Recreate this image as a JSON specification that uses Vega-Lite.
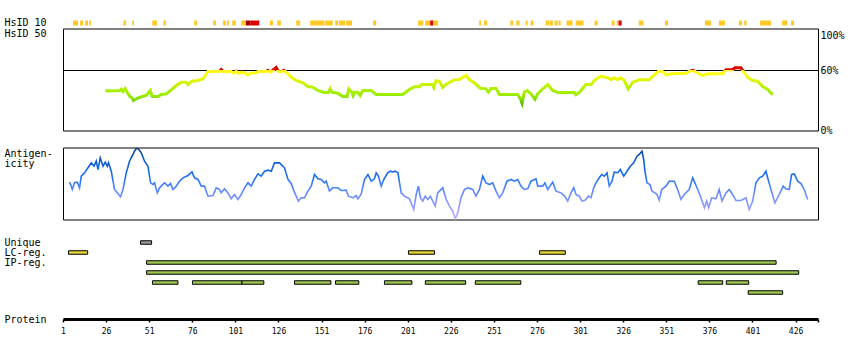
{
  "$schema": "https://vega.github.io/schema/vega-lite/v6.json",
  "background": "white",
  "padding": {"left": 3, "top": 17.5, "right": 0, "bottom": 0},
  "bounds": "full",
  "spacing": 8,
  "resolve": {"scale": {"color": "independent"}},
  "config": {
    "view": {"stroke": null},
    "font": "DejaVu Sans Mono",
    "axis": {"labelFont": "DejaVu Sans Mono", "titleFont": "DejaVu Sans Mono", "labelColor": "black", "titleColor": "black", "titleFontWeight": "normal", "labelFontSize": 10, "titleFontSize": 10, "grid": false}
  },
  "vconcat": [
    {
      "bounds": "flush",
      "spacing": 3,
      "resolve": {"scale": {"color": "independent"}},
      "vconcat": [
        {
          "width": 755,
          "height": 5,
          "data": {"values": [
            {"track": "HsID 10", "start": 6.8, "end": 9.7, "level": "medium"},
            {"track": "HsID 10", "start": 10.9, "end": 12.6, "level": "medium"},
            {"track": "HsID 10", "start": 13.9, "end": 15.5, "level": "medium"},
            {"track": "HsID 10", "start": 16.2, "end": 17.2, "level": "medium"},
            {"track": "HsID 10", "start": 36.0, "end": 37.5, "level": "medium"},
            {"track": "HsID 10", "start": 41.2, "end": 42.2, "level": "medium"},
            {"track": "HsID 10", "start": 52.8, "end": 55.5, "level": "medium"},
            {"track": "HsID 10", "start": 59.2, "end": 60.7, "level": "medium"},
            {"track": "HsID 10", "start": 77.1, "end": 78.7, "level": "medium"},
            {"track": "HsID 10", "start": 88.1, "end": 89.7, "level": "medium"},
            {"track": "HsID 10", "start": 93.8, "end": 95.5, "level": "medium"},
            {"track": "HsID 10", "start": 96.1, "end": 97.2, "level": "medium"},
            {"track": "HsID 10", "start": 99.2, "end": 101.3, "level": "medium"},
            {"track": "HsID 10", "start": 104.4, "end": 107.1, "level": "medium"},
            {"track": "HsID 10", "start": 107.1, "end": 109.6, "level": "very high"},
            {"track": "HsID 10", "start": 109.6, "end": 114.8, "level": "high"},
            {"track": "HsID 10", "start": 114.8, "end": 115.2, "level": "medium"},
            {"track": "HsID 10", "start": 121.0, "end": 122.8, "level": "medium"},
            {"track": "HsID 10", "start": 125.3, "end": 127.4, "level": "medium"},
            {"track": "HsID 10", "start": 136.3, "end": 138.6, "level": "medium"},
            {"track": "HsID 10", "start": 144.4, "end": 152.7, "level": "medium"},
            {"track": "HsID 10", "start": 153.1, "end": 157.5, "level": "medium"},
            {"track": "HsID 10", "start": 158.9, "end": 160.6, "level": "medium"},
            {"track": "HsID 10", "start": 161.2, "end": 164.7, "level": "medium"},
            {"track": "HsID 10", "start": 165.3, "end": 168.7, "level": "medium"},
            {"track": "HsID 10", "start": 180.9, "end": 182.7, "level": "medium"},
            {"track": "HsID 10", "start": 207.0, "end": 209.9, "level": "medium"},
            {"track": "HsID 10", "start": 211.1, "end": 214.0, "level": "medium"},
            {"track": "HsID 10", "start": 214.0, "end": 215.7, "level": "high"},
            {"track": "HsID 10", "start": 215.7, "end": 218.6, "level": "medium"},
            {"track": "HsID 10", "start": 242.4, "end": 243.6, "level": "medium"},
            {"track": "HsID 10", "start": 245.3, "end": 247.1, "level": "medium"},
            {"track": "HsID 10", "start": 260.5, "end": 262.2, "level": "medium"},
            {"track": "HsID 10", "start": 264.0, "end": 265.8, "level": "medium"},
            {"track": "HsID 10", "start": 269.4, "end": 270.5, "level": "medium"},
            {"track": "HsID 10", "start": 272.3, "end": 274.0, "level": "medium"},
            {"track": "HsID 10", "start": 281.0, "end": 282.9, "level": "medium"},
            {"track": "HsID 10", "start": 283.3, "end": 285.2, "level": "medium"},
            {"track": "HsID 10", "start": 286.2, "end": 288.0, "level": "medium"},
            {"track": "HsID 10", "start": 288.5, "end": 289.7, "level": "medium"},
            {"track": "HsID 10", "start": 293.1, "end": 296.6, "level": "medium"},
            {"track": "HsID 10", "start": 298.4, "end": 303.0, "level": "medium"},
            {"track": "HsID 10", "start": 309.4, "end": 311.2, "level": "medium"},
            {"track": "HsID 10", "start": 319.3, "end": 321.0, "level": "medium"},
            {"track": "HsID 10", "start": 322.2, "end": 323.3, "level": "medium"},
            {"track": "HsID 10", "start": 323.3, "end": 325.1, "level": "high"},
            {"track": "HsID 10", "start": 335.0, "end": 337.8, "level": "medium"},
            {"track": "HsID 10", "start": 350.3, "end": 352.0, "level": "medium"},
            {"track": "HsID 10", "start": 373.4, "end": 376.9, "level": "medium"},
            {"track": "HsID 10", "start": 381.5, "end": 385.0, "level": "medium"},
            {"track": "HsID 10", "start": 393.1, "end": 394.9, "level": "medium"},
            {"track": "HsID 10", "start": 396.2, "end": 397.6, "level": "medium"},
            {"track": "HsID 10", "start": 405.4, "end": 411.8, "level": "medium"},
            {"track": "HsID 10", "start": 418.2, "end": 421.1, "level": "medium"},
            {"track": "HsID 10", "start": 423.4, "end": 425.1, "level": "medium"}
          ]},
          "mark": {"type": "rect"},
          "encoding": {
            "x": {"field": "start", "type": "quantitative", "scale": {"domain": [1, 439], "nice": false, "zero": false}, "axis": null},
            "x2": {"field": "end"},
            "y": {"field": "track", "type": "nominal", "scale": {"paddingInner": 0, "paddingOuter": 0}, "axis": {"title": null, "labelAlign": "left", "labelPadding": 59, "ticks": false, "tickSize": 0, "domain": false, "labelBaseline": "middle"}},
            "color": {"field": "level", "type": "nominal", "scale": {"domain": ["medium", "high", "very high"], "range": ["#FFC825", "#E00000", "#A00000"]}, "legend": null}
          }
        },
        {
          "width": 755,
          "height": 102,
          "view": {"stroke": "black", "strokeWidth": 1},
          "layer": [
            {
              "data": {"values": [{"threshold": 60}]},
              "mark": {"type": "rule", "color": "black", "strokeWidth": 1},
              "encoding": {
                "y": {"field": "threshold", "type": "quantitative", "scale": {"domain": [0, 102], "nice": false}, "axis": {"orient": "left", "title": "HsID 50", "labels": false, "ticks": false, "tickSize": 0, "domain": false, "titleAngle": 0, "titleAlign": "left", "titleBaseline": "middle", "titleX": -59, "titleY": 5}}
              }
            },
            {
              "data": {"values": [
                {"residue": 25.5, "identity": 39.7}, {"residue": 33.8, "identity": 39.7}, {"residue": 34.8, "identity": 41.3}, {"residue": 35.8, "identity": 39},
                {"residue": 37.1, "identity": 42}, {"residue": 38.3, "identity": 38}, {"residue": 39.8, "identity": 34}, {"residue": 41.0, "identity": 32.7},
                {"residue": 41.9, "identity": 30}, {"residue": 43.5, "identity": 31.7}, {"residue": 46.4, "identity": 33.7}, {"residue": 49.3, "identity": 35},
                {"residue": 51.6, "identity": 40}, {"residue": 52.8, "identity": 34}, {"residue": 56.1, "identity": 34}, {"residue": 58.0, "identity": 36},
                {"residue": 60.9, "identity": 36.7}, {"residue": 63.8, "identity": 40.7}, {"residue": 66.7, "identity": 45}, {"residue": 69.6, "identity": 48.3},
                {"residue": 72.5, "identity": 48.3}, {"residue": 73.5, "identity": 46}, {"residue": 75.8, "identity": 49.3}, {"residue": 79.3, "identity": 50},
                {"residue": 82.2, "identity": 51.7}, {"residue": 85.1, "identity": 59}, {"residue": 91.8, "identity": 59}, {"residue": 92.8, "identity": 61},
                {"residue": 93.8, "identity": 59}, {"residue": 98.6, "identity": 59}, {"residue": 100.1, "identity": 57.3}, {"residue": 101.5, "identity": 59.3},
                {"residue": 102.8, "identity": 57}, {"residue": 104.4, "identity": 58.3}, {"residue": 106.3, "identity": 58}, {"residue": 107.9, "identity": 55.7},
                {"residue": 110.2, "identity": 57.3}, {"residue": 113.1, "identity": 57.7}, {"residue": 114.1, "identity": 59}, {"residue": 118.9, "identity": 59},
                {"residue": 119.9, "identity": 60.2}, {"residue": 121.4, "identity": 58.3}, {"residue": 123.3, "identity": 61}, {"residue": 124.7, "identity": 63},
                {"residue": 126.0, "identity": 59}, {"residue": 127.6, "identity": 58.7}, {"residue": 129.1, "identity": 60.2}, {"residue": 130.5, "identity": 58.3},
                {"residue": 133.4, "identity": 53.3}, {"residue": 136.3, "identity": 50}, {"residue": 140.2, "identity": 47.7}, {"residue": 143.1, "identity": 44},
                {"residue": 146.0, "identity": 43.3}, {"residue": 148.9, "identity": 40}, {"residue": 152.7, "identity": 38}, {"residue": 155.0, "identity": 38},
                {"residue": 156.0, "identity": 41.7}, {"residue": 157.0, "identity": 38.3}, {"residue": 160.4, "identity": 37.3}, {"residue": 163.3, "identity": 34},
                {"residue": 165.8, "identity": 34}, {"residue": 166.8, "identity": 41.7}, {"residue": 168.6, "identity": 38.3}, {"residue": 169.3, "identity": 35},
                {"residue": 170.1, "identity": 38.3}, {"residue": 172.0, "identity": 38.3}, {"residue": 173.4, "identity": 35}, {"residue": 174.9, "identity": 40},
                {"residue": 179.8, "identity": 40}, {"residue": 182.7, "identity": 36}, {"residue": 198.1, "identity": 36}, {"residue": 201.9, "identity": 41},
                {"residue": 204.9, "identity": 43.7}, {"residue": 207.8, "identity": 43.7}, {"residue": 209.1, "identity": 46}, {"residue": 215.5, "identity": 46},
                {"residue": 216.1, "identity": 43.3}, {"residue": 217.4, "identity": 50}, {"residue": 219.4, "identity": 49}, {"residue": 221.3, "identity": 43.3},
                {"residue": 224.2, "identity": 47.3}, {"residue": 228.1, "identity": 50.7}, {"residue": 231.0, "identity": 51}, {"residue": 232.9, "identity": 53.3},
                {"residue": 234.8, "identity": 55}, {"residue": 236.8, "identity": 51}, {"residue": 239.6, "identity": 47.7}, {"residue": 243.1, "identity": 42.3},
                {"residue": 246.4, "identity": 41.7}, {"residue": 247.8, "identity": 38.3}, {"residue": 249.3, "identity": 42}, {"residue": 252.2, "identity": 42},
                {"residue": 254.2, "identity": 36}, {"residue": 264.8, "identity": 36}, {"residue": 266.3, "identity": 31.7}, {"residue": 267.3, "identity": 27.3},
                {"residue": 268.6, "identity": 38.3}, {"residue": 270.2, "identity": 40}, {"residue": 272.5, "identity": 36.7}, {"residue": 274.8, "identity": 31.3},
                {"residue": 276.4, "identity": 36.7}, {"residue": 278.3, "identity": 40}, {"residue": 282.2, "identity": 46}, {"residue": 285.1, "identity": 40},
                {"residue": 288.0, "identity": 38}, {"residue": 297.6, "identity": 38}, {"residue": 298.6, "identity": 35.7}, {"residue": 300.5, "identity": 38},
                {"residue": 304.4, "identity": 46}, {"residue": 307.3, "identity": 46}, {"residue": 309.6, "identity": 50.7}, {"residue": 313.1, "identity": 54.3},
                {"residue": 317.0, "identity": 52.7}, {"residue": 318.9, "identity": 51}, {"residue": 320.8, "identity": 52.7}, {"residue": 322.8, "identity": 51},
                {"residue": 324.7, "identity": 52.7}, {"residue": 326.6, "identity": 50}, {"residue": 328.9, "identity": 41.7}, {"residue": 331.5, "identity": 48.3},
                {"residue": 335.3, "identity": 50.7}, {"residue": 341.1, "identity": 50.7}, {"residue": 344.0, "identity": 55.7}, {"residue": 346.3, "identity": 59},
                {"residue": 348.9, "identity": 59}, {"residue": 350.8, "identity": 55.7}, {"residue": 353.7, "identity": 56.7}, {"residue": 362.4, "identity": 57.3},
                {"residue": 364.3, "identity": 59}, {"residue": 366.6, "identity": 60.2}, {"residue": 368.8, "identity": 57.7}, {"residue": 372.1, "identity": 55},
                {"residue": 375.0, "identity": 56.7}, {"residue": 383.7, "identity": 56.7}, {"residue": 385.6, "identity": 60.8}, {"residue": 389.5, "identity": 60.8},
                {"residue": 390.8, "identity": 62.7}, {"residue": 394.3, "identity": 62.7}, {"residue": 395.3, "identity": 60}, {"residue": 398.2, "identity": 53.3},
                {"residue": 401.1, "identity": 50}, {"residue": 404.0, "identity": 49.3}, {"residue": 406.9, "identity": 44}, {"residue": 409.8, "identity": 41},
                {"residue": 412.7, "identity": 35.7}
              ]},
              "mark": {"type": "line", "strokeWidth": 3, "color": {"gradient": "linear", "x1": 0, "y1": 1, "x2": 0, "y2": 0, "stops": [
                {"offset": 0, "color": "#5CB800"},
                {"offset": 0.1, "color": "#84DC00"},
                {"offset": 0.25, "color": "#9EEE00"},
                {"offset": 0.36, "color": "#A8F000"},
                {"offset": 0.52, "color": "#C8F200"},
                {"offset": 0.69, "color": "#E8F600"},
                {"offset": 0.83, "color": "#FFFF10"},
                {"offset": 0.92, "color": "#FFF020"},
                {"offset": 0.921, "color": "#E00000"},
                {"offset": 1, "color": "#E00000"}
              ]}},
              "encoding": {
                "x": {"field": "residue", "type": "quantitative", "scale": {"domain": [1, 439], "nice": false, "zero": false}, "axis": null},
                "y": {"field": "identity", "type": "quantitative", "axis": {"orient": "right", "values": [0, 60, 100], "labelExpr": "datum.value + '%'", "title": null, "ticks": false, "tickSize": 0, "domain": false, "labelPadding": 2, "labelBaseline": {"condition": {"test": "datum.value == 100", "value": "top"}, "value": "middle"}}}
              }
            }
          ],
          "resolve": {"axis": {"y": "independent"}}
        }
      ]
    },
    {
      "width": 755,
      "height": 72,
      "view": {"stroke": "black", "strokeWidth": 1},
      "data": {"values": [
        {"residue": 4.8, "antigenicity": 51.9}, {"residue": 5.8, "antigenicity": 46.3}, {"residue": 6.4, "antigenicity": 41.7}, {"residue": 7.7, "antigenicity": 51},
        {"residue": 9.3, "antigenicity": 51.9}, {"residue": 10.6, "antigenicity": 44}, {"residue": 11.6, "antigenicity": 60.2}, {"residue": 13.5, "antigenicity": 64.8},
        {"residue": 15.5, "antigenicity": 71.8}, {"residue": 17.4, "antigenicity": 78.7}, {"residue": 19.0, "antigenicity": 74.1}, {"residue": 20.3, "antigenicity": 81},
        {"residue": 21.3, "antigenicity": 69.4}, {"residue": 22.6, "antigenicity": 85.6}, {"residue": 24.2, "antigenicity": 74}, {"residue": 25.5, "antigenicity": 79.6},
        {"residue": 26.7, "antigenicity": 74}, {"residue": 27.4, "antigenicity": 78.7}, {"residue": 29.0, "antigenicity": 67.1}, {"residue": 30.9, "antigenicity": 41.7},
        {"residue": 32.5, "antigenicity": 37}, {"residue": 34.4, "antigenicity": 31.5}, {"residue": 35.8, "antigenicity": 41.7}, {"residue": 37.7, "antigenicity": 64.8},
        {"residue": 39.6, "antigenicity": 81}, {"residue": 41.6, "antigenicity": 90.3}, {"residue": 42.5, "antigenicity": 94.9}, {"residue": 43.5, "antigenicity": 98.6},
        {"residue": 44.8, "antigenicity": 98.1}, {"residue": 46.4, "antigenicity": 92.6}, {"residue": 48.3, "antigenicity": 81}, {"residue": 50.3, "antigenicity": 74},
        {"residue": 51.8, "antigenicity": 50.9}, {"residue": 53.2, "antigenicity": 48.6}, {"residue": 54.1, "antigenicity": 51}, {"residue": 55.7, "antigenicity": 37},
        {"residue": 57.0, "antigenicity": 44}, {"residue": 59.9, "antigenicity": 51}, {"residue": 61.9, "antigenicity": 46.3}, {"residue": 63.4, "antigenicity": 50},
        {"residue": 64.8, "antigenicity": 41.7}, {"residue": 66.7, "antigenicity": 46.3}, {"residue": 68.6, "antigenicity": 53.2}, {"residue": 70.6, "antigenicity": 57.9},
        {"residue": 73.5, "antigenicity": 61.1}, {"residue": 75.8, "antigenicity": 66.2}, {"residue": 77.3, "antigenicity": 57.9}, {"residue": 79.3, "antigenicity": 55.6},
        {"residue": 81.2, "antigenicity": 46.3}, {"residue": 83.1, "antigenicity": 46.3}, {"residue": 85.1, "antigenicity": 32.4}, {"residue": 88.0, "antigenicity": 33.3},
        {"residue": 89.9, "antigenicity": 44}, {"residue": 91.8, "antigenicity": 41.7}, {"residue": 92.8, "antigenicity": 37}, {"residue": 94.7, "antigenicity": 42.6},
        {"residue": 96.7, "antigenicity": 37}, {"residue": 98.6, "antigenicity": 28.7}, {"residue": 100.5, "antigenicity": 34.7}, {"residue": 102.5, "antigenicity": 27.8},
        {"residue": 104.4, "antigenicity": 34.7}, {"residue": 106.3, "antigenicity": 44}, {"residue": 108.3, "antigenicity": 50.9}, {"residue": 110.2, "antigenicity": 46.3},
        {"residue": 112.1, "antigenicity": 55.6}, {"residue": 114.1, "antigenicity": 63.4}, {"residue": 116.0, "antigenicity": 60.2}, {"residue": 117.9, "antigenicity": 67.1},
        {"residue": 119.9, "antigenicity": 68.5}, {"residue": 121.8, "antigenicity": 67.1}, {"residue": 123.7, "antigenicity": 78.7}, {"residue": 126.6, "antigenicity": 78.7},
        {"residue": 129.5, "antigenicity": 71.8}, {"residue": 131.5, "antigenicity": 55.6}, {"residue": 133.4, "antigenicity": 50}, {"residue": 135.0, "antigenicity": 39.4},
        {"residue": 137.6, "antigenicity": 25.5}, {"residue": 139.2, "antigenicity": 30.1}, {"residue": 141.1, "antigenicity": 30.1}, {"residue": 143.1, "antigenicity": 39.4},
        {"residue": 145.0, "antigenicity": 46.3}, {"residue": 146.9, "antigenicity": 62.5}, {"residue": 148.9, "antigenicity": 56.5}, {"residue": 150.8, "antigenicity": 55.6},
        {"residue": 152.7, "antigenicity": 50.9}, {"residue": 153.7, "antigenicity": 53.2}, {"residue": 155.6, "antigenicity": 39.4}, {"residue": 157.5, "antigenicity": 44},
        {"residue": 160.4, "antigenicity": 44}, {"residue": 162.4, "antigenicity": 40.3}, {"residue": 165.3, "antigenicity": 40.7}, {"residue": 166.6, "antigenicity": 32.4},
        {"residue": 169.2, "antigenicity": 30.1}, {"residue": 171.1, "antigenicity": 33.3}, {"residue": 172.1, "antigenicity": 28.7}, {"residue": 174.0, "antigenicity": 35.6},
        {"residue": 175.9, "antigenicity": 55.6}, {"residue": 177.9, "antigenicity": 62.5}, {"residue": 179.8, "antigenicity": 53.2}, {"residue": 181.7, "antigenicity": 56.5},
        {"residue": 182.7, "antigenicity": 64.8}, {"residue": 184.0, "antigenicity": 60.2}, {"residue": 185.6, "antigenicity": 46.3}, {"residue": 187.1, "antigenicity": 55.6},
        {"residue": 189.4, "antigenicity": 64.8}, {"residue": 191.0, "antigenicity": 67.1}, {"residue": 192.4, "antigenicity": 66}, {"residue": 193.7, "antigenicity": 67.1},
        {"residue": 195.3, "antigenicity": 64.8}, {"residue": 197.2, "antigenicity": 37}, {"residue": 199.1, "antigenicity": 32.4}, {"residue": 202.0, "antigenicity": 28.7},
        {"residue": 204.5, "antigenicity": 13.9}, {"residue": 205.9, "antigenicity": 34.7}, {"residue": 207.2, "antigenicity": 46.3}, {"residue": 208.4, "antigenicity": 30.1},
        {"residue": 209.7, "antigenicity": 25.5}, {"residue": 211.1, "antigenicity": 32.4}, {"residue": 212.6, "antigenicity": 27.8}, {"residue": 214.1, "antigenicity": 32.4},
        {"residue": 215.5, "antigenicity": 25.5}, {"residue": 216.9, "antigenicity": 18.5}, {"residue": 218.4, "antigenicity": 37}, {"residue": 221.3, "antigenicity": 44},
        {"residue": 223.3, "antigenicity": 27.8}, {"residue": 225.2, "antigenicity": 18.5}, {"residue": 227.1, "antigenicity": 11.6}, {"residue": 228.6, "antigenicity": 1.4},
        {"residue": 230.0, "antigenicity": 9.3}, {"residue": 231.9, "antigenicity": 30.1}, {"residue": 233.9, "antigenicity": 41.7}, {"residue": 235.8, "antigenicity": 44},
        {"residue": 238.7, "antigenicity": 41.7}, {"residue": 240.6, "antigenicity": 32.4}, {"residue": 242.6, "antigenicity": 41.7}, {"residue": 244.5, "antigenicity": 60.2},
        {"residue": 246.4, "antigenicity": 50.9}, {"residue": 248.4, "antigenicity": 48.6}, {"residue": 250.3, "antigenicity": 50.9}, {"residue": 252.2, "antigenicity": 39.4},
        {"residue": 254.2, "antigenicity": 30.1}, {"residue": 256.1, "antigenicity": 37}, {"residue": 258.6, "antigenicity": 53.2}, {"residue": 260.9, "antigenicity": 55.6},
        {"residue": 262.9, "antigenicity": 53.2}, {"residue": 264.8, "antigenicity": 55.6}, {"residue": 266.7, "antigenicity": 46.3}, {"residue": 268.6, "antigenicity": 41.7},
        {"residue": 270.6, "antigenicity": 42.6}, {"residue": 272.5, "antigenicity": 53.2}, {"residue": 275.4, "antigenicity": 56.5}, {"residue": 276.4, "antigenicity": 46.3},
        {"residue": 279.3, "antigenicity": 46.3}, {"residue": 280.6, "antigenicity": 50.9}, {"residue": 282.2, "antigenicity": 41.7}, {"residue": 285.1, "antigenicity": 51.9},
        {"residue": 287.0, "antigenicity": 39.4}, {"residue": 289.9, "antigenicity": 37}, {"residue": 291.8, "antigenicity": 33.3}, {"residue": 293.8, "antigenicity": 25.5},
        {"residue": 295.7, "antigenicity": 37}, {"residue": 297.3, "antigenicity": 44}, {"residue": 298.6, "antigenicity": 34.7}, {"residue": 300.5, "antigenicity": 32.4},
        {"residue": 302.1, "antigenicity": 25.5}, {"residue": 304.0, "antigenicity": 26.9}, {"residue": 305.8, "antigenicity": 32.4}, {"residue": 307.3, "antigenicity": 30.1},
        {"residue": 308.9, "antigenicity": 44}, {"residue": 310.2, "antigenicity": 50.9}, {"residue": 312.1, "antigenicity": 57.9}, {"residue": 313.5, "antigenicity": 62.5},
        {"residue": 315.0, "antigenicity": 60.2}, {"residue": 316.6, "antigenicity": 64.8}, {"residue": 317.9, "antigenicity": 46.3}, {"residue": 319.5, "antigenicity": 53.2},
        {"residue": 320.8, "antigenicity": 65.7}, {"residue": 322.8, "antigenicity": 65}, {"residue": 324.3, "antigenicity": 69.4}, {"residue": 326.3, "antigenicity": 60.2},
        {"residue": 328.2, "antigenicity": 67.1}, {"residue": 330.1, "antigenicity": 74}, {"residue": 332.1, "antigenicity": 78.7}, {"residue": 334.0, "antigenicity": 87.9},
        {"residue": 335.3, "antigenicity": 90.3}, {"residue": 336.9, "antigenicity": 94.9}, {"residue": 337.9, "antigenicity": 83.3}, {"residue": 338.6, "antigenicity": 67.1},
        {"residue": 339.8, "antigenicity": 50.9}, {"residue": 341.5, "antigenicity": 48.6}, {"residue": 342.7, "antigenicity": 39.4}, {"residue": 344.4, "antigenicity": 37},
        {"residue": 345.6, "antigenicity": 34.7}, {"residue": 346.9, "antigenicity": 26.9}, {"residue": 348.3, "antigenicity": 41.7}, {"residue": 350.8, "antigenicity": 46.3},
        {"residue": 352.7, "antigenicity": 53.2}, {"residue": 355.6, "antigenicity": 53.2}, {"residue": 357.6, "antigenicity": 41.7}, {"residue": 359.5, "antigenicity": 27.8},
        {"residue": 361.4, "antigenicity": 34.7}, {"residue": 364.3, "antigenicity": 41.7}, {"residue": 366.3, "antigenicity": 57.9}, {"residue": 367.6, "antigenicity": 50.9},
        {"residue": 369.2, "antigenicity": 41.7}, {"residue": 371.1, "antigenicity": 30.1}, {"residue": 373.1, "antigenicity": 16.2}, {"residue": 374.4, "antigenicity": 25.5},
        {"residue": 375.6, "antigenicity": 16.2}, {"residue": 377.3, "antigenicity": 30.1}, {"residue": 379.8, "antigenicity": 28.7}, {"residue": 381.7, "antigenicity": 41.7},
        {"residue": 383.3, "antigenicity": 25.5}, {"residue": 385.6, "antigenicity": 37}, {"residue": 387.5, "antigenicity": 41.7}, {"residue": 389.5, "antigenicity": 34.7},
        {"residue": 391.4, "antigenicity": 26.4}, {"residue": 394.3, "antigenicity": 26.4}, {"residue": 397.2, "antigenicity": 30.1}, {"residue": 399.1, "antigenicity": 13.9},
        {"residue": 401.1, "antigenicity": 25.5}, {"residue": 403.0, "antigenicity": 50.9}, {"residue": 405.0, "antigenicity": 57.9}, {"residue": 406.9, "antigenicity": 60.2},
        {"residue": 408.8, "antigenicity": 67.1}, {"residue": 409.8, "antigenicity": 57.9}, {"residue": 411.7, "antigenicity": 41.7}, {"residue": 414.0, "antigenicity": 23.1},
        {"residue": 416.5, "antigenicity": 34.7}, {"residue": 418.8, "antigenicity": 46.3}, {"residue": 420.4, "antigenicity": 42.6}, {"residue": 422.3, "antigenicity": 41.7},
        {"residue": 423.7, "antigenicity": 62.5}, {"residue": 425.2, "antigenicity": 63.4}, {"residue": 427.2, "antigenicity": 53.2}, {"residue": 429.1, "antigenicity": 50},
        {"residue": 431.0, "antigenicity": 41.7}, {"residue": 433.0, "antigenicity": 27.8}
      ]},
      "mark": {"type": "line", "strokeWidth": 1.6, "color": {"gradient": "linear", "x1": 0, "y1": 1, "x2": 0, "y2": 0, "stops": [
        {"offset": 0, "color": "#B8A8FF"},
        {"offset": 0.14, "color": "#9A9CFF"},
        {"offset": 0.3, "color": "#7490FF"},
        {"offset": 0.4, "color": "#5A88FF"},
        {"offset": 0.5, "color": "#3A7CF8"},
        {"offset": 0.6, "color": "#1C70F0"},
        {"offset": 0.76, "color": "#0F62DD"},
        {"offset": 0.9, "color": "#0A52B8"},
        {"offset": 1, "color": "#083E90"}
      ]}},
      "encoding": {
        "x": {"field": "residue", "type": "quantitative", "scale": {"domain": [1, 439], "nice": false, "zero": false}, "axis": null},
        "y": {"field": "antigenicity", "type": "quantitative", "scale": {"domain": [0, 100], "nice": false}, "axis": {"title": ["Antigen-", "icity"], "labels": false, "ticks": false, "tickSize": 0, "domain": false, "titleAngle": 0, "titleAlign": "left", "titleBaseline": "top", "titleX": -59, "titleY": 1, "titleLineHeight": 10}}
      }
    },
    {
      "width": 755,
      "height": 74,
      "data": {"values": [
        {"track": "Unique", "lane": 1, "start": 46.0, "end": 52.4},
        {"track": "LC-reg.", "lane": 2, "start": 4.2, "end": 15.3},
        {"track": "LC-reg.", "lane": 2, "start": 201.4, "end": 216.5},
        {"track": "LC-reg.", "lane": 2, "start": 277.4, "end": 292.4},
        {"track": "IP-reg.", "lane": 3, "start": 49.5, "end": 414.7},
        {"track": "IP-reg.", "lane": 4, "start": 49.5, "end": 427.8},
        {"track": "IP-reg.", "lane": 5, "start": 52.9, "end": 67.7},
        {"track": "IP-reg.", "lane": 5, "start": 76.1, "end": 104.8},
        {"track": "IP-reg.", "lane": 5, "start": 104.8, "end": 117.5},
        {"track": "IP-reg.", "lane": 5, "start": 135.3, "end": 156.4},
        {"track": "IP-reg.", "lane": 5, "start": 159.1, "end": 172.6},
        {"track": "IP-reg.", "lane": 5, "start": 187.5, "end": 203.4},
        {"track": "IP-reg.", "lane": 5, "start": 211.2, "end": 234.6},
        {"track": "IP-reg.", "lane": 5, "start": 240.2, "end": 266.6},
        {"track": "IP-reg.", "lane": 5, "start": 369.5, "end": 383.7},
        {"track": "IP-reg.", "lane": 5, "start": 385.8, "end": 398.8},
        {"track": "IP-reg.", "lane": 6, "start": 398.5, "end": 418.5}
      ]},
      "mark": {"type": "bar", "size": 3.5, "stroke": "black", "strokeWidth": 1},
      "encoding": {
        "x": {"field": "start", "type": "quantitative", "scale": {"domain": [1, 439], "nice": false, "zero": false},
              "axis": {"orient": "bottom", "offset": 14.5, "values": [1, 26, 51, 76, 101, 126, 151, 176, 201, 226, 251, 276, 301, 326, 351, 376, 401, 426, 439],
                       "labelExpr": "datum.value > 430 ? '' : datum.label", "format": "d", "domainColor": "black", "domainWidth": 3, "tickColor": "black", "tickWidth": 1.5, "tickSize": 3,
                       "labelFontSize": 8, "labelPadding": 5, "labelBaseline": "top", "labelFlush": false, "labelOverlap": false,
                       "title": "Protein", "titleAngle": 0, "titleAlign": "left", "titleBaseline": "middle", "titleX": -59, "titleY": 0}},
        "x2": {"field": "end"},
        "y": {"field": "lane", "type": "ordinal", "scale": {"domain": [1, 2, 3, 4, 5, 6], "paddingInner": 0, "paddingOuter": 0.7},
              "axis": {"title": null, "labelExpr": "datum.value == 1 ? 'Unique' : datum.value == 2 ? 'LC-reg.' : datum.value == 3 ? 'IP-reg.' : ''", "labelAlign": "left", "labelPadding": 59, "ticks": false, "tickSize": 0, "domain": false, "labelBaseline": "middle"}},
        "color": {"field": "track", "type": "nominal", "scale": {"domain": ["Unique", "LC-reg.", "IP-reg."], "range": ["#999999", "#E6D435", "#9CC54E"]}, "legend": null}
      }
    }
  ]
}
